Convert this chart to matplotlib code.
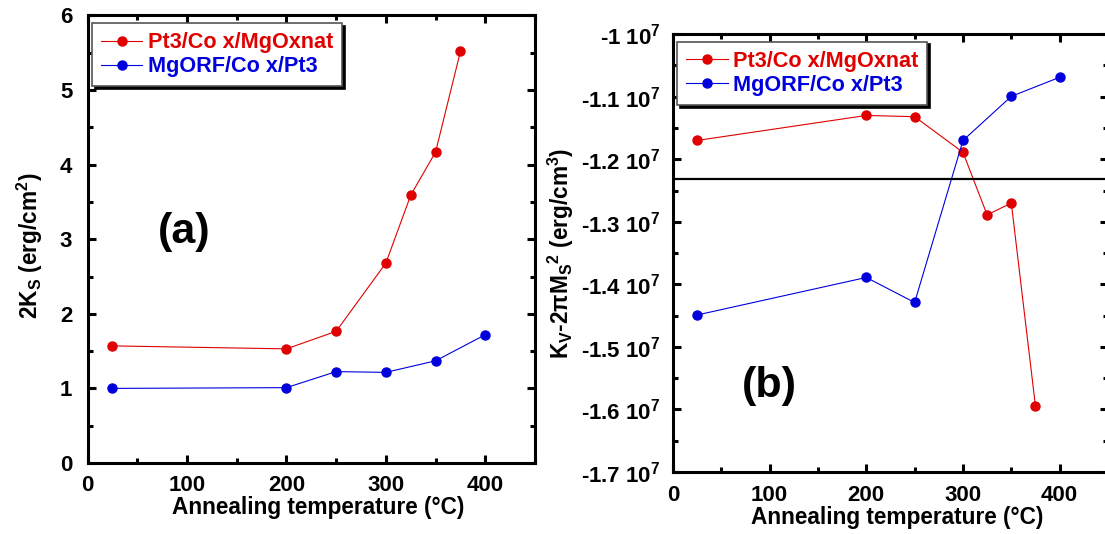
import matplotlib
matplotlib.use("Agg")
from matplotlib import pyplot as plt
from matplotlib.ticker import MultipleLocator, FuncFormatter

# data
temp_red = [25, 200, 250, 300, 325, 350, 375]
temp_blue = [25, 200, 250, 300, 350, 400]

ks_red = [1.57, 1.53, 1.765, 2.68, 3.59, 4.17, 5.52]
ks_blue = [1.00, 1.01, 1.225, 1.215, 1.37, 1.72]

kv_red = [-1.170e7, -1.130e7, -1.132e7, -1.189e7, -1.289e7, -1.270e7, -1.595e7]
kv_blue = [-1.449e7, -1.389e7, -1.429e7, -1.170e7, -1.0995e7, -1.069e7]
kv_ref_line = -1.2315e7

label_red = 'Pt3/Co x/MgOxnat'
label_blue = 'MgORF/Co x/Pt3'
red = '#e00000'
blue = '#0000dd'

plt.rcParams['font.family'] = ['Liberation Sans', 'DejaVu Sans']
plt.rcParams['font.weight'] = 'bold'
plt.rcParams['axes.labelweight'] = 'bold'
plt.rcParams['mathtext.fontset'] = 'custom'
plt.rcParams['mathtext.rm'] = 'Liberation Sans:bold'
plt.rcParams['mathtext.it'] = 'Liberation Sans:bold'
plt.rcParams['mathtext.bf'] = 'Liberation Sans:bold'
plt.rcParams['mathtext.sf'] = 'Liberation Sans:bold'
plt.rcParams['mathtext.default'] = 'rm'


def style_axes(ax):
    for s in ax.spines.values():
        s.set_linewidth(2.2)
    ax.tick_params(which='both', direction='in', top=True, right=True,
                   labelsize=16, width=2.2)
    ax.tick_params(which='major', length=6)
    ax.tick_params(which='minor', length=3.5)
    ax.tick_params(axis='x', which='major', pad=9)
    ax.tick_params(axis='y', which='major', pad=11)
    ax.xaxis.set_major_locator(MultipleLocator(100))
    ax.xaxis.set_minor_locator(MultipleLocator(50))
    ax.set_xlim(0, 450)
    ax.set_xlabel('Annealing temperature (°C)', fontsize=16.3, labelpad=0)
    ax.xaxis.label.set_x(0.516)


def add_legend(ax):
    leg = ax.legend(loc='upper left', bbox_to_anchor=(0.01, 0.983),
                    borderaxespad=0, fontsize=15.6, handlelength=1.9,
                    handletextpad=0.25, labelspacing=0.14, borderpad=0.42,
                    fancybox=False, framealpha=1, edgecolor='#555555',
                    shadow={'color': 'black', 'alpha': 1})
    leg.get_frame().set_linewidth(1.2)
    for txt, c in zip(leg.get_texts(), [red, blue]):
        txt.set_color(c)
    return leg


fig = plt.figure(figsize=(11.05, 5.34), dpi=100)

# panel (a)
ax1 = fig.add_axes([0.0792, 0.133, 0.405, 0.838])
ax1.plot(temp_red, ks_red, '-o', color=red, lw=0.8, ms=6.5, label=label_red)
ax1.plot(temp_blue, ks_blue, '-o', color=blue, lw=0.8, ms=6.5, label=label_blue)
style_axes(ax1)
ax1.set_ylim(0, 6)
ax1.yaxis.set_major_locator(MultipleLocator(1))
ax1.yaxis.set_minor_locator(MultipleLocator(0.5))
ax1.set_ylabel('2K$_S$ (erg/cm$^2$)', fontsize=16.3, labelpad=11)
ax1.yaxis.label.set_y(0.485)
ax1.text(97, 3.1, '(a)', fontsize=31, fontweight='bold', ha='center', va='center')
add_legend(ax1)

# panel (b)
ax2 = fig.add_axes([0.609, 0.1161, 0.3937, 0.820])
ax2.plot(temp_red, kv_red, '-o', color=red, lw=0.8, ms=6.5, label=label_red)
ax2.plot(temp_blue, kv_blue, '-o', color=blue, lw=0.8, ms=6.5, label=label_blue)
ax2.axhline(kv_ref_line, color='black', lw=1.6)
style_axes(ax2)
ax2.xaxis.label.set_x(0.515)
ax2.tick_params(axis='y', which='major', pad=9)
ax2.set_ylim(-1.7e7, -1.0e7)
ax2.yaxis.set_major_locator(MultipleLocator(0.1e7))
ax2.yaxis.set_minor_locator(MultipleLocator(0.05e7))
ax2.yaxis.set_major_formatter(FuncFormatter(lambda v, p: '-%g 10$^7$' % round(abs(v) / 1e7, 2)))
ax2.set_ylabel('K$_V$-2$\\pi$M$_S$$^2$ (erg/cm$^3$)', fontsize=16.3, labelpad=4)
ax2.text(100, -1.5626e7, '(b)', fontsize=31, fontweight='bold', ha='center', va='center')
add_legend(ax2)

fig.savefig('out.png', dpi=100)
